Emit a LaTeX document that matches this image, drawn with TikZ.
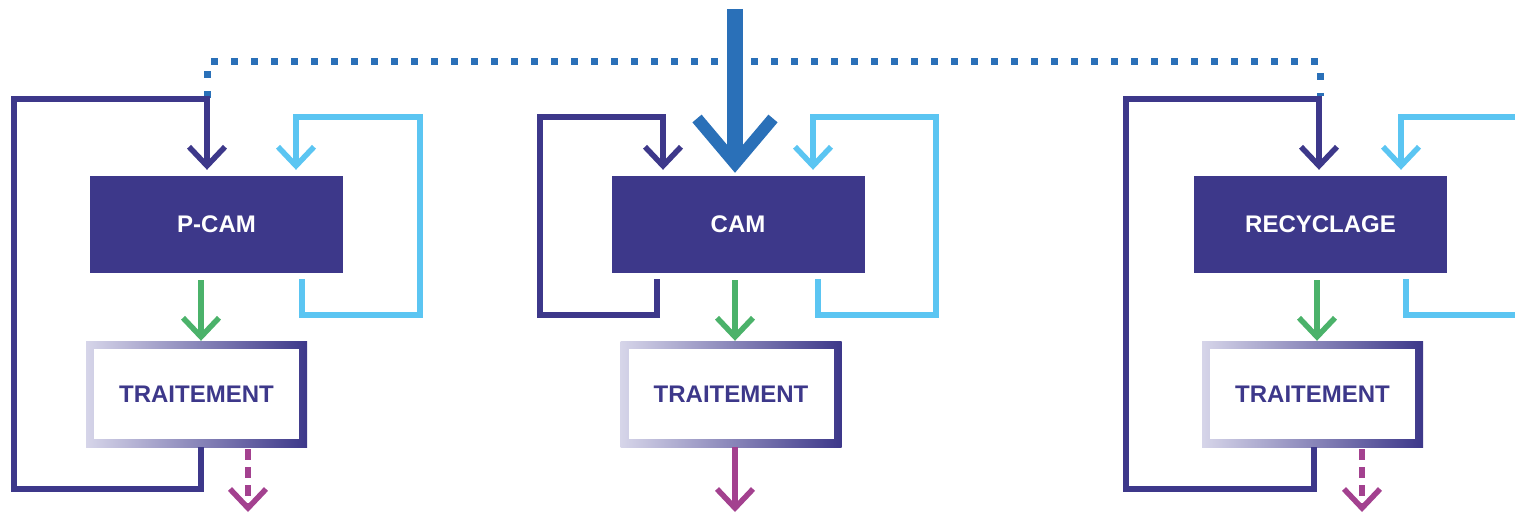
\documentclass[tikz,border=0pt]{standalone}
\usepackage{fontspec}
\setmainfont{Liberation Sans}
\usetikzlibrary{arrows.meta}
\definecolor{navy}{RGB}{61,56,138}
\definecolor{gradl}{RGB}{214,213,233}
\definecolor{lblue}{RGB}{91,197,242}
\definecolor{grn}{RGB}{75,178,106}
\definecolor{dblue}{RGB}{42,112,184}
\definecolor{magen}{RGB}{163,65,143}
\begin{document}
\begin{tikzpicture}[x=1pt,y=-1pt,
  box/.style={fill=navy,text=white,minimum width=253pt,minimum height=97pt,inner sep=0pt,
    font=\bfseries\fontsize{24}{28}\selectfont},
  trt/.style={left color=gradl,right color=navy,minimum width=221pt,minimum height=106pt,inner sep=0pt,
    text=navy,font=\bfseries\fontsize{24}{28}\selectfont,
    path picture={\fill[white] ([shift={(8pt,-8pt)}]path picture bounding box.north west) rectangle ([shift={(-8pt,8pt)}]path picture bounding box.south east);}},
  conn/.style={line width=5.5pt,-{Straight Barb[length=19pt,width=36pt]}},
  loopd/.style={conn,draw=navy},
  loopl/.style={conn,draw=lblue},
  gflow/.style={conn,draw=grn,shorten <=7pt},
  mflow/.style={conn,draw=magen},
  mdash/.style={mflow,dash pattern=on 11pt off 7pt},
  bigarrow/.style={draw=dblue,line width=16pt,-{Straight Barb[length=45pt,width=76pt,line width=12pt]}},
  dots/.style={draw=dblue,line width=7pt,dash pattern=on 7pt off 13pt}
]
\useasboundingbox (0,0) rectangle (1515,513);
\clip (0,0) rectangle (1515,513);

% nodes
\node[box] (pcam) at (216.5,224.5) {P-CAM};
\node[trt] (t1) at (196.5,394) {TRAITEMENT};
\node[box] (cam) at (738,224.5) {CAM};
\node[trt] (t2) at (731,394) {TRAITEMENT};
\node[box] (rec) at (1320.5,224.5) {RECYCLAGE};
\node[trt] (t3) at (1312.5,394) {TRAITEMENT};

% free ends
\coordinate (src) at (735,9);
\coordinate (out1) at (248,512);
\coordinate (out2) at (735,512);
\coordinate (out3) at (1362,512);
\coordinate (l3out) at (1530,315);
\coordinate (l3in) at (1530,117);

% dotted link
\draw[dots] (207,98) -- (207,62) -- (1320,62) -- (1320,96);

% P-CAM
\draw[loopd,shorten >=6pt] (t1.south -| 201,0) -- (201,489) -- (14,489) -- (14,99) -- (207,99) -- (pcam.north -| 207,0);
\draw[loopl,shorten <=6pt,shorten >=6pt] (pcam.south -| 302,0) -- (302,315) -- (420,315) -- (420,117) -- (296,117) -- (pcam.north -| 296,0);
\draw[gflow] (pcam.south -| 201,0) -- (t1.north -| 201,0);
\draw[mdash,shorten <=2pt] (t1.south -| 248,0) -- (out1);

% CAM
\draw[bigarrow,shorten >=3pt] (src) -- (cam.north -| 735,0);
\draw[loopd,shorten <=6pt,shorten >=6pt] (cam.south -| 657,0) -- (657,315) -- (540,315) -- (540,117) -- (663,117) -- (cam.north -| 663,0);
\draw[loopl,shorten <=6pt,shorten >=6pt] (cam.south -| 818,0) -- (818,315) -- (936,315) -- (936,117) -- (813,117) -- (cam.north -| 813,0);
\draw[gflow] (cam.south -| 735,0) -- (t2.north -| 735,0);
\draw[mflow] (t2.south -| 735,0) -- (out2);

% RECYCLAGE
\draw[loopd,shorten >=6pt] (t3.south -| 1314,0) -- (1314,489) -- (1126,489) -- (1126,99) -- (1319,99) -- (rec.north -| 1319,0);
\draw[line width=5.5pt,draw=lblue,shorten <=6pt] (rec.south -| 1406,0) -- (1406,315) -- (l3out);
\draw[loopl,shorten >=6pt] (l3in) -- (1401,117) -- (rec.north -| 1401,0);
\draw[gflow] (rec.south -| 1317,0) -- (t3.north -| 1317,0);
\draw[mdash,shorten <=2pt] (t3.south -| 1362,0) -- (out3);
\end{tikzpicture}
\end{document}
